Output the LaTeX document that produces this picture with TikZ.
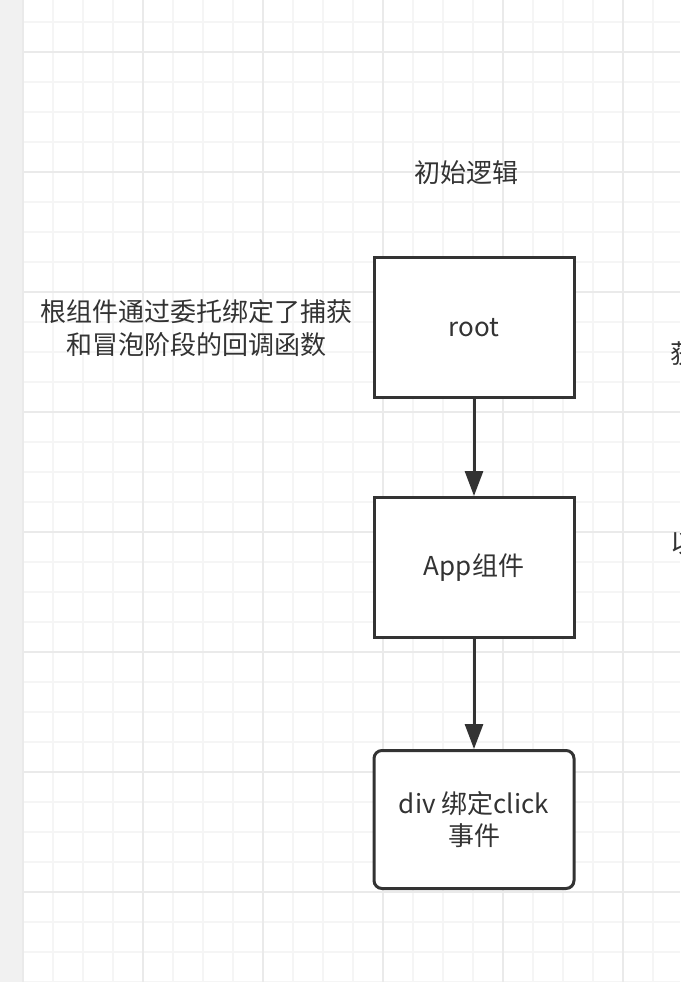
\documentclass[tikz,border=0pt]{standalone}
\usepackage{fontspec}
\setmainfont{Noto Sans CJK SC}
\usepackage{tikz}
\usetikzlibrary{arrows.meta, positioning}

\definecolor{inkgray}{HTML}{333333}
\definecolor{gridminor}{HTML}{F5F5F5}
\definecolor{gridmajor}{HTML}{EAEAEA}
\definecolor{sidegray}{HTML}{F1F1F1}

\tikzset{
  flowbox/.style={draw=inkgray, line width=3pt, fill=white, minimum width=200pt,
    minimum height=140pt, align=center, text=inkgray, font=\fontsize{26}{32}\selectfont},
  notetext/.style={text=inkgray, align=center, font=\fontsize{26}{33}\selectfont},
  flowarrow/.style={draw=inkgray, line width=3pt, -{Triangle[length=25pt, width=18pt]}}
}

\begin{document}
\begin{tikzpicture}[x=1pt, y=-1pt]
    \clip (0,0) rectangle (680,982);
    \fill[white] (0,0) rectangle (680,982);

    % Grid
    \foreach \x in {53,83,...,680} \draw[gridminor, line width=1.5pt] (\x,0) -- (\x,982);
    \foreach \y in {22,52,...,982} \draw[gridminor, line width=1.5pt] (23,\y) -- (680,\y);
    \foreach \x in {23,143,...,680} \draw[gridmajor, line width=2pt] (\x,0) -- (\x,982);
    \foreach \y in {52,172,...,982} \draw[gridmajor, line width=2pt] (23,\y) -- (680,\y);

    % Side strip
    \fill[sidegray] (0,0) rectangle (22,982);

    % Title
    \node[notetext] (title) at (466,173) {初始逻辑};

    % Boxes
    \node[flowbox] (root) at (474,327.5) {root};
    \node[flowbox] (app) at (474,567.5) {App组件};
    \node[flowbox, minimum height=138pt, rounded corners=8pt] (div) at (474,819.5) {div 绑定click\\事件};

    % Arrows
    \draw[flowarrow] (root) -- (app);
    \draw[flowarrow] (app) -- (div);

    % Note
    \node[notetext] (note) at (196,328) {根组件通过委托绑定了捕获\\和冒泡阶段的回调函数};

    % Cut-off texts at the right edge
    \node[notetext, anchor=west, inner sep=0pt] (rightcap) at (670,354) {获};
    \node[notetext, anchor=west, inner sep=0pt] (rightbub) at (670,543) {以};
\end{tikzpicture}
\end{document}
